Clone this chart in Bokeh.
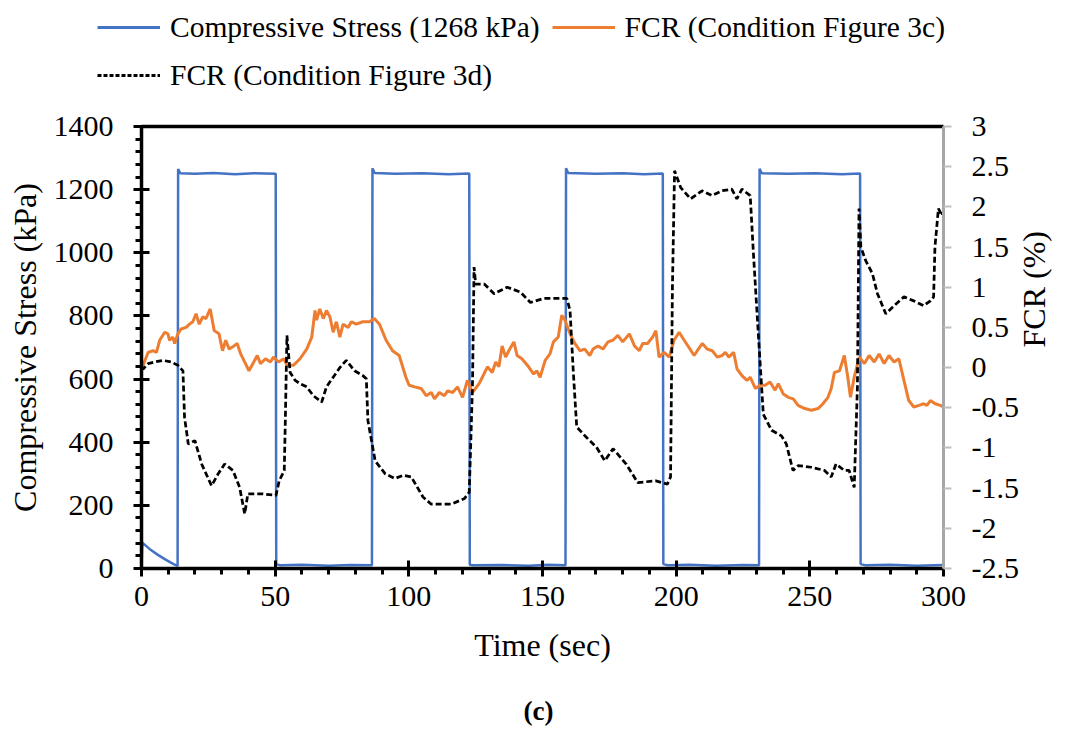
import math
from bokeh.plotting import figure
from bokeh.layouts import column, row
from bokeh.models import (Range1d, LinearAxis, FixedTicker, Legend, LegendItem, Label)
from bokeh.embed import file_html
from bokeh.resources import INLINE

# ---------------- data ----------------
stress_t = [0, 0.3, 3, 6, 9, 12, 13.5, 13.7, 14.5, 20, 27, 35, 42, 50.2, 50.4, 52, 60, 70, 78, 86.2,
            86.4, 87.2, 95, 105, 115, 122.6, 122.8, 124, 135, 145, 152, 158.6, 158.8, 159.6, 170, 180,
            188, 195.0, 195.2, 197, 205, 215, 225, 231.0, 231.2, 232, 242, 252, 262, 268.8, 269.0,
            271, 280, 290, 300]
stress = [0, 82, 62, 44, 28, 14, 8, 1265, 1252, 1250, 1253, 1249, 1252, 1250, 14, 10, 12, 9, 11, 10,
          1268, 1253, 1250, 1252, 1249, 1251, 12, 10, 11, 9, 12, 10, 1268, 1253, 1250, 1252, 1249,
          1251, 14, 10, 12, 9, 11, 10, 1266, 1252, 1250, 1252, 1249, 1251, 14, 10, 12, 9, 11]

fcr3c_t = [0, 0.6, 2.5, 4.3, 5.6, 6.8, 8.7, 9.9, 10.5, 11.7, 12.4, 13.6, 14.8, 16.7, 17.9, 19.2, 20.4,
           21.6, 22.9, 24.1, 25.7, 27.2, 29.0, 30.3, 31.5, 32.8, 34.6, 35.8, 37.1, 38.9, 40.2, 42.0,
           43.3, 44.5, 46.4, 48.2, 49.4, 51.3, 53.2, 54.4, 56.9, 59.3, 61.8, 63.7, 64.9, 65.5, 66.7,
           68.0, 69.2, 70.5, 71.7, 72.9, 74.2, 75.4, 77.3, 78.5, 80.3, 82.8, 85.3, 87.1, 89.0, 91.5,
           93.9, 96.4, 98.9, 100.1, 102.2, 104.6, 106.5, 108.4, 109.6, 111.4, 113.3, 114.5, 116.4,
           118.2, 120.1, 121.9, 123.8, 126.3, 128.1, 129.4, 131.2, 132.5, 133.7, 134.9, 136.2, 137.4,
           139.3, 140.5, 142.3, 144.8, 146.7, 147.9, 149.1, 151.0, 152.8, 154.1, 155.9, 157.2, 158.4,
           160.3, 162.1, 164.0, 165.8, 167.7, 168.9, 170.8, 172.6, 174.5, 176.3, 178.2, 180.0, 182.5,
           184.4, 186.2, 187.5, 189.3, 191.2, 192.4, 193.6, 195.5, 197.4, 199.2, 201.1, 203.0, 204.8,
           206.7, 207.9, 209.8, 211.6, 213.5, 215.4, 217.2, 218.4, 219.7, 221.5, 222.8, 224.6, 226.5,
           227.7, 229.6, 231.4, 233.3, 235.1, 237.0, 238.2, 240.1, 241.9, 243.8, 245.6, 248.1, 250.6,
           253.1, 254.9, 256.8, 258.0, 259.2, 261.1, 262.9, 264.2, 265.2, 266.6, 268.5, 270.4, 272.2,
           274.1, 275.9, 277.8, 279.6, 281.5, 283.3, 285.2, 287.0, 288.9, 290.8, 292.6, 293.8, 295.1,
           296.9, 298.8, 300]
fcr3c = [0.0, 0.03, 0.19, 0.21, 0.19, 0.34, 0.44, 0.42, 0.34, 0.38, 0.30, 0.42, 0.48, 0.50, 0.54,
         0.57, 0.67, 0.54, 0.63, 0.61, 0.73, 0.46, 0.42, 0.21, 0.34, 0.23, 0.27, 0.30, 0.17, 0.05,
         -0.04, 0.07, 0.15, 0.05, 0.11, 0.07, 0.13, 0.07, 0.11, 0.03, 0.03, 0.11, 0.23, 0.38, 0.71,
         0.59, 0.73, 0.61, 0.71, 0.63, 0.44, 0.57, 0.38, 0.54, 0.50, 0.57, 0.54, 0.57, 0.57, 0.61,
         0.54, 0.34, 0.21, 0.15, -0.12, -0.22, -0.24, -0.26, -0.35, -0.31, -0.39, -0.31, -0.35,
         -0.29, -0.31, -0.24, -0.37, -0.16, -0.31, -0.20, -0.08, 0.01, -0.06, 0.07, 0.01, 0.27,
         0.13, 0.21, 0.32, 0.15, 0.11, 0.01, -0.08, -0.04, -0.12, 0.09, 0.17, 0.32, 0.38, 0.65,
         0.59, 0.42, 0.30, 0.21, 0.23, 0.15, 0.23, 0.27, 0.23, 0.32, 0.34, 0.40, 0.32, 0.42, 0.27,
         0.21, 0.30, 0.30, 0.38, 0.46, 0.13, 0.19, 0.13, 0.34, 0.44, 0.34, 0.25, 0.15, 0.21, 0.30,
         0.23, 0.21, 0.13, 0.15, 0.19, 0.13, 0.19, -0.02, -0.10, -0.16, -0.12, -0.26, -0.22, -0.22,
         -0.18, -0.28, -0.20, -0.33, -0.37, -0.39, -0.47, -0.51, -0.53, -0.51, -0.45, -0.37, -0.26,
         -0.06, -0.04, 0.15, -0.12, -0.37, -0.12, 0.13, 0.05, 0.15, 0.07, 0.17, 0.05, 0.15, 0.07,
         0.11, -0.16, -0.41, -0.49, -0.47, -0.45, -0.47, -0.41, -0.45, -0.47, -0.49]

fcr3d_t = [0, 0.6, 2.5, 4.9, 8.0, 11.1, 13.6, 15.5, 16.1, 17.5, 20, 22.5, 26.2, 28.7, 31.1, 34.2,
           36.7, 38.6, 39.8, 44.9, 50.3, 51.5, 53.4, 53.8, 54.4, 55.6, 57.5, 59.3, 61.8, 64.3, 67.4,
           69.2, 71.7, 74.2, 76.6, 79.7, 82.8, 84.1, 84.7, 87.4, 91.1, 94.8, 98, 100.9, 105.3, 108.4,
           115.8, 120.8, 122.6, 123.8, 124.4, 125, 128.2, 131.9, 136.8, 141.7, 145.5, 150.4, 159.1,
           160.3, 161.5, 162.8, 166.5, 170.2, 173.3, 176.4, 181.3, 185.6, 192.4, 196.7, 197.9, 198.6,
           199.4, 201.7, 205.4, 209.7, 213.4, 217.1, 220.8, 222.7, 224.6, 227.7, 228.9, 230.8, 232.6,
           235.7, 239.4, 241.2, 243.7, 245.6, 250.5, 255.5, 258, 259.8, 262.9, 264.7, 266.6, 267.8,
           268.4, 269.1, 270.9, 273.4, 275.3, 278.4, 281.5, 285.2, 288.9, 292.6, 295.1, 296.3, 296.8,
           298.1, 299.4, 300]
fcr3d = [0.0, -0.02, 0.05, 0.07, 0.09, 0.07, 0.03, -0.04, -0.62, -0.95, -0.91, -1.20, -1.47, -1.32,
         -1.20, -1.28, -1.49, -1.82, -1.57, -1.57, -1.59, -1.41, -1.28, -0.66, 0.40, -0.06, -0.16,
         -0.20, -0.24, -0.35, -0.43, -0.24, -0.12, 0.00, 0.09, -0.04, -0.10, -0.14, -0.66, -1.16,
         -1.32, -1.38, -1.34, -1.36, -1.61, -1.70, -1.70, -1.63, -1.55, -0.24, 1.25, 1.04, 1.04,
         0.92, 1.00, 0.94, 0.81, 0.86, 0.86, 0.71, -0.04, -0.74, -0.87, -0.99, -1.16, -1.01, -1.20,
         -1.43, -1.41, -1.45, -1.36, 1.00, 2.45, 2.24, 2.10, 2.20, 2.14, 2.20, 2.22, 2.10, 2.22,
         2.14, 1.42, 0.38, -0.58, -0.78, -0.85, -0.95, -1.28, -1.22, -1.24, -1.28, -1.36, -1.20,
         -1.28, -1.28, -1.49, -0.24, 1.98, 1.50, 1.33, 1.17, 0.92, 0.67, 0.77, 0.88, 0.83, 0.77,
         0.83, 0.88, 1.50, 1.98, 1.89, 1.95]

x_ticks = [0, 50, 100, 150, 200, 250, 300]
left_ticks = [0, 200, 400, 600, 800, 1000, 1200, 1400]
right_ticks = [-2.5, -2, -1.5, -1, -0.5, 0, 0.5, 1, 1.5, 2, 2.5, 3]
right_labels = {-2.5: "-2.5", -2: "-2", -1.5: "-1.5", -1: "-1", -0.5: "-0.5", 0: "0", 0.5: "0.5",
                1: "1", 1.5: "1.5", 2: "2", 2.5: "2.5", 3: "3"}
series_names = ["Compressive Stress (1268 kPa)", "FCR (Condition Figure 3c)",
                "FCR (Condition Figure 3d)"]
caption = "(c)"

FONT = "Liberation Serif"
BLUE = "#4472C4"
ORANGE = "#ED7D31"
DASH = "6 3"
W = 1072

# ---------------- main chart ----------------
p = figure(width=W, height=588, output_backend="svg", toolbar_location=None,
           x_range=Range1d(0, 300), y_range=Range1d(0, 1400),
           min_border_left=141, min_border_right=122, min_border_top=26, min_border_bottom=120)
p.extra_y_ranges = {"fcr": Range1d(-2.5, 3)}
p.grid.visible = False
p.outline_line_color = None

p.line(stress_t, stress, line_color=BLUE, line_width=2.5)
p.line(fcr3c_t, fcr3c, line_color=ORANGE, line_width=3, y_range_name="fcr")
p.line(fcr3d_t, fcr3d, line_color="black", line_width=2.75, line_dash=DASH, y_range_name="fcr")

xa = p.xaxis[0]
xa.ticker = FixedTicker(ticks=x_ticks, minor_ticks=list(range(0, 301, 10)))
xa.axis_label = "Time (sec)"
ya = p.yaxis[0]
ya.ticker = FixedTicker(ticks=left_ticks, minor_ticks=list(range(0, 1401, 40)))
ya.axis_label = "Compressive Stress (kPa)"
for ax in (xa, ya):
    ax.axis_line_color = "black"
    ax.axis_line_width = 3.5
    ax.major_tick_line_color = "black"
    ax.major_tick_line_width = 3
    ax.minor_tick_line_color = "black"
    ax.minor_tick_line_width = 3
    ax.major_tick_in = 8
    ax.major_tick_out = 8
    ax.minor_tick_in = 0
    ax.minor_tick_out = 6
    ax.major_label_text_font = FONT
    ax.major_label_text_font_size = "30px"
    ax.major_label_text_color = "black"
    ax.axis_label_text_font = FONT
    ax.axis_label_text_font_size = "32px"
    ax.axis_label_text_font_style = "normal"
    ax.axis_label_text_color = "black"
ya.major_label_standoff = 20
ya.axis_label_standoff = 8
xa.major_label_standoff = 10
xa.axis_label_standoff = 18

ra = LinearAxis(y_range_name="fcr", axis_label="FCR (%)")
ra.ticker = FixedTicker(ticks=right_ticks, minor_ticks=[])
ra.major_label_overrides = right_labels
ra.axis_line_color = "#A6A6A6"
ra.axis_line_width = 3
ra.major_tick_line_color = "#BFBFBF"
ra.major_tick_line_width = 2
ra.major_tick_in = 0
ra.major_tick_out = 8
ra.minor_tick_in = 0
ra.minor_tick_out = 0
ra.major_label_text_font = FONT
ra.major_label_text_font_size = "30px"
ra.major_label_text_color = "black"
ra.major_label_standoff = 20
ra.axis_label_text_font = FONT
ra.axis_label_text_font_size = "32px"
ra.axis_label_text_font_style = "normal"
ra.axis_label_text_color = "black"
ra.axis_label_standoff = 12
ra.axis_label_orientation = math.pi / 2
p.add_layout(ra, "right")

ta = LinearAxis(ticker=FixedTicker(ticks=[]))
ta.axis_line_color = "black"
ta.axis_line_width = 3.5
ta.major_tick_in = 0
ta.major_tick_out = 0
ta.minor_tick_in = 0
ta.minor_tick_out = 0
ta.major_label_text_font_size = "0px"
p.add_layout(ta, "above")

# ---------------- legend strip ----------------
lg = figure(width=W, height=100, output_backend="svg", toolbar_location=None,
            x_range=Range1d(-2, -1), y_range=Range1d(-2, -1), min_border=0)
lg.axis.visible = False
lg.grid.visible = False
lg.outline_line_color = None
d1 = lg.line(stress_t, stress, line_color=BLUE, line_width=3)
d2 = lg.line(fcr3c_t, fcr3c, line_color=ORANGE, line_width=3)
d3 = lg.line(fcr3d_t, fcr3d, line_color="black", line_width=3, line_dash="4 2")
legend = Legend(items=[LegendItem(label=series_names[0], renderers=[d1]),
                       LegendItem(label=series_names[1], renderers=[d2]),
                       LegendItem(label=series_names[2], renderers=[d3])],
                orientation="horizontal", ncols=2, location=(97, 7),
                label_text_font=FONT, label_text_font_size="29.5px", label_text_color="black",
                glyph_width=63, glyph_height=36, label_standoff=10, spacing=12, padding=0, margin=0,
                border_line_alpha=0, background_fill_alpha=0)
lg.add_layout(legend, "center")

# ---------------- caption strip ----------------
cp = figure(width=W, height=44, output_backend="svg", toolbar_location=None,
            x_range=Range1d(0, W), y_range=Range1d(0, 44), min_border=0)
cp.axis.visible = False
cp.grid.visible = False
cp.outline_line_color = None
cp.add_layout(Label(x=538, y=22, text=caption, text_font=FONT, text_font_size="27px",
                    text_font_style="bold", text_align="center", text_baseline="middle",
                    text_color="black"))

layout = column(row(lg), p, row(cp), spacing=0)
open("out.html", "w").write(file_html(layout, INLINE))
